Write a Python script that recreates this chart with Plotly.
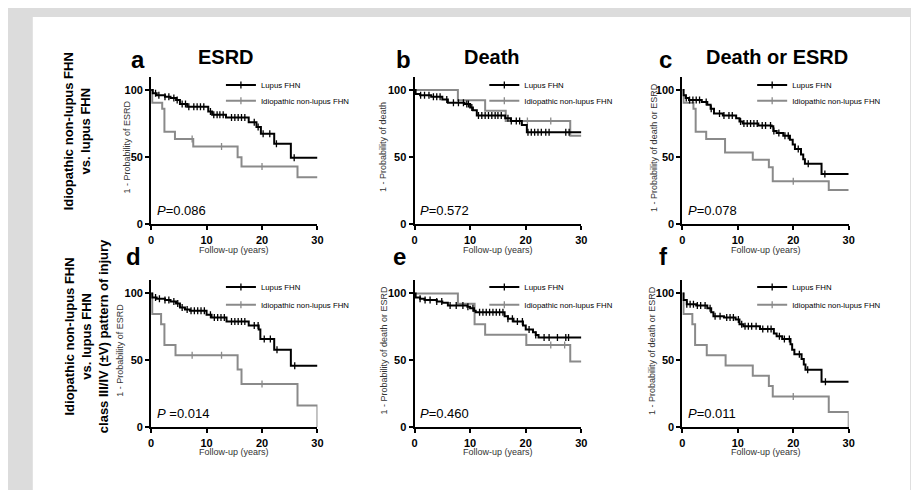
import plotly.graph_objects as go

FOLLOW_UP_END = 30

# ---------------- data ----------------
# (a) ESRD, all lupus FHN vs idiopathic
a_lupus_t = [0, 0.3, 1.0, 2.5, 3.5, 4.5, 5.2, 6.5, 10.3, 11.0, 13.5, 17.6, 19.0, 19.8, 22.2, 25.2]
a_lupus_s = [100, 97.5, 96, 95, 94, 92.5, 89.5, 87.5, 84, 81.5, 79.5, 76, 72.5, 67.5, 60, 49.5]
a_lupus_cens = [0.8, 1.4, 2.5, 3.2, 4.1, 4.7, 5.6, 6.2, 6.8, 7.7, 8.3, 8.9, 9.5, 10.7, 11.3, 11.9,
                12.4, 13.0, 14.5, 15.1, 15.7, 16.3, 16.9, 18.6, 19.3, 20.2, 21.4, 22.6, 25.8]
a_idio_t = [0, 0.2, 2.0, 2.4, 4.3, 7.6, 15.6, 16.3, 26.4]
a_idio_s = [100, 90.5, 86, 69, 63.5, 58, 50, 43, 35]
a_idio_cens = [7.4, 12.7, 20.0]

# (b) Death
b_lupus_t = [0, 0.2, 1.0, 3.0, 5.0, 6.0, 9.0, 10.0, 10.5, 11.2, 16.3, 17.3, 19.3, 20.2]
b_lupus_s = [100, 97, 96, 95, 93, 90.5, 89.5, 87, 85, 81, 79, 77, 74, 68.5]
b_lupus_cens = [1.1, 1.8, 2.6, 3.4, 4.0, 4.6, 5.8, 7.0, 7.9, 8.8, 9.4, 9.7, 10.3, 11.5, 12.1, 12.7,
                13.3, 13.9, 14.5, 15.0, 15.6, 16.8, 17.4, 18.3, 18.9, 20.4, 21.0, 21.6, 22.2,
                22.8, 23.6, 24.2, 27.2, 27.8]
b_idio_t = [0, 7.8, 12.7, 16.4, 28.0]
b_idio_s = [100, 92.3, 84.6, 76.9, 65.9]
b_idio_cens = [20.3, 24.5]

# (c) Death or ESRD
c_lupus_t = [0, 0.2, 0.6, 1.2, 3.5, 4.5, 5.1, 5.7, 7.3, 9.7, 10.3, 10.9, 13.7, 16.1, 16.4, 17.0, 18.2,
             19.4, 19.9, 20.3, 21.4, 21.8, 22.1, 25.1]
c_lupus_s = [100, 96, 94, 92.5, 91, 89, 86, 82.5, 81, 79, 76.5, 75, 73.5, 73, 69.5, 68, 66, 63, 59.5,
             56, 52, 48.5, 45, 37.5]
c_lupus_cens = [0.7, 1.3, 1.9, 2.5, 3.1, 4.3, 5.2, 6.7, 7.5, 8.4, 9.0, 10.5, 11.1, 11.7, 12.3, 12.9,
                13.5, 14.4, 15.0, 15.9, 16.5, 17.4, 18.5, 19.1, 20.9, 22.7, 25.7]
c_idio_t = [0, 0.2, 2.0, 2.4, 4.3, 7.7, 12.7, 15.6, 16.3, 26.4]
c_idio_s = [100, 90.5, 86, 69, 63.5, 53.5, 48, 42.5, 32, 25.5]
c_idio_cens = [20.0]

# (d) ESRD, class III/IV (+/-V) lupus FHN
d_lupus_t = [0, 0.2, 1.0, 2.5, 3.5, 4.5, 5.2, 6.1, 7.0, 10.0, 10.9, 13.6, 17.6, 19.4, 19.7, 22.2, 25.2]
d_lupus_s = [100, 97, 96, 95, 94, 92.4, 89.5, 88, 87, 84, 82, 79, 76, 73, 66, 58, 46]
d_lupus_cens = [0.8, 1.5, 2.5, 3.2, 4.1, 4.8, 5.6, 6.5, 7.2, 7.8, 8.4, 9.0, 9.6, 10.7, 11.4, 12.0,
                12.6, 13.2, 14.5, 15.1, 15.7, 16.3, 16.9, 18.6, 19.3, 20.4, 21.5, 22.7, 25.9]
d_idio_t = [0, 0.2, 1.8, 2.4, 4.4, 15.6, 16.3, 26.4, 30.0]
d_idio_s = [100, 84.6, 76.9, 61.5, 53.8, 43.1, 32.3, 16.2, 0]
d_idio_cens = [7.4, 12.7, 20.0]

# (e) Death or ESRD ... (middle)
e_lupus_t = [0, 0.2, 1.0, 1.8, 4.0, 5.0, 6.0, 9.5, 10.0, 10.7, 11.0, 16.2, 16.8, 17.8, 19.5, 20.0,
             21.3, 21.8, 22.3]
e_lupus_s = [100, 97, 96, 95, 94, 93, 91, 90, 89, 87, 86, 83, 81, 79, 76, 73, 71, 69, 67]
e_lupus_cens = [1.0, 1.9, 2.8, 4.0, 4.9, 6.4, 7.5, 8.7, 9.6, 10.5, 11.7, 12.3, 12.9, 13.5, 14.1, 14.7,
                15.3, 15.9, 16.8, 17.6, 18.5, 19.4, 20.6, 21.8, 23.3, 24.2, 25.7, 27.2, 27.7]
e_idio_t = [0, 7.8, 10.8, 12.7, 20.1, 28.0]
e_idio_s = [100, 92.3, 76.9, 69.2, 61.5, 49.2]
e_idio_cens = [24.5, 27.0]

# (f) Death or ESRD, class III/IV
f_lupus_t = [0, 0.2, 0.8, 2.5, 4.5, 5.2, 5.6, 7.5, 9.6, 10.3, 11.0, 14.0, 16.5, 17.0, 18.0, 19.5,
             19.8, 20.2, 21.5, 21.9, 22.2, 25.1]
f_lupus_s = [100, 95, 92, 91, 89, 86, 83, 82, 80.5, 77, 75.5, 73.5, 70, 68, 66, 62, 58, 54.5, 51,
             47, 43, 34]
f_lupus_cens = [0.8, 1.4, 2.0, 2.7, 3.3, 4.1, 5.0, 5.9, 6.8, 8.0, 8.6, 9.2, 10.1, 10.7, 11.3, 11.9,
                12.5, 13.3, 14.5, 15.4, 16.0, 17.5, 18.4, 19.3, 21.1, 22.6, 25.8]
f_idio_t = [0, 0.2, 1.8, 2.3, 4.4, 7.8, 12.7, 15.6, 16.3, 26.4, 30.0]
f_idio_s = [100, 84.6, 76.9, 61.5, 53.8, 46.2, 38.5, 30.8, 23.1, 11.5, 0]
f_idio_cens = [20.0]

panel_letters = ["a", "b", "c", "d", "e", "f"]
panel_titles = ["ESRD", "Death", "Death or ESRD", "", "", ""]
p_values = ["<i>P</i>=0.086", "<i>P</i>=0.572", "<i>P</i>=0.078",
            "<i>P</i> =0.014", "<i>P</i>=0.460", "<i>P</i>=0.011"]
y_titles = ["1 - Probability of ESRD", "1 - Probability of death", "1 - Probability of death or ESRD",
            "1 - Probability of ESRD", "1 - Probability of death or ESRD",
            "1 - Probability of death or ESRD"]
x_title = "Follow-up (years)"
series_names = ["Lupus FHN", "Idiopathic non-lupus FHN"]
row_labels = ["Idiopathic non-lupus FHN<br>vs. lupus FHN",
              "Idiopathic non-lupus FHN<br>vs. lupus FHN<br>class III/IV (±V) pattern of injury"]
x_ticks = [0, 10, 20, 30]
y_ticks = [0, 50, 100]

panels = [
    (a_lupus_t, a_lupus_s, a_lupus_cens, a_idio_t, a_idio_s, a_idio_cens),
    (b_lupus_t, b_lupus_s, b_lupus_cens, b_idio_t, b_idio_s, b_idio_cens),
    (c_lupus_t, c_lupus_s, c_lupus_cens, c_idio_t, c_idio_s, c_idio_cens),
    (d_lupus_t, d_lupus_s, d_lupus_cens, d_idio_t, d_idio_s, d_idio_cens),
    (e_lupus_t, e_lupus_s, e_lupus_cens, e_idio_t, e_idio_s, e_idio_cens),
    (f_lupus_t, f_lupus_s, f_lupus_cens, f_idio_t, f_idio_s, f_idio_cens),
]

# ---------------- layout geometry (pixels) ----------------
W, H = 919, 490
FONT = "Arial, Liberation Sans, Helvetica, sans-serif"
BLACK = "#000000"
GREY = "#8a8a8a"

col_px = [(141.5, 309.5), (407.5, 576.0), (678.0, 846.0)]
row_px = [(69.4, 219.0), (275.4, 424.5)]   # (top, bottom)
ytitle_dx = [-24, -32, -28, -31, -30.5, -30]
letter_pos = [(128, 52), (396, 52), (661, 52), (124, 252), (392, 252), (659, 252)]
title_pos = [(217, 50), (486, 50), (774, 50)]


def fx(px):
    return px / W


def fy(py):
    return 1 - py / H


def step_value(ts, ss, t):
    v = ss[0]
    for ti, si in zip(ts, ss):
        if ti <= t:
            v = si
    return v


fig = go.Figure()
layout_axes = {}
annotations = []
legends = {}

for i, (lt, ls, lc, it, is_, ic) in enumerate(panels):
    r, c = divmod(i, 3)
    n = i + 1
    xa = "x" if n == 1 else f"x{n}"
    ya = "y" if n == 1 else f"y{n}"
    x0, x1 = col_px[c]
    top, bot = row_px[r]

    lg1 = "legend" if i == 0 else f"legend{2 * i + 1}"
    lg2 = f"legend{2 * i + 2}"

    for ts, ss, cens, color, name, lg in [
        (it, is_, ic, GREY, series_names[1], lg2),
        (lt, ls, lc, BLACK, series_names[0], lg1),
    ]:
        xs = list(ts) + [FOLLOW_UP_END]
        ys = list(ss) + [ss[-1]]
        fig.add_trace(go.Scatter(x=xs, y=ys, mode="lines", line=dict(color=color, width=2, shape="hv"),
                                 xaxis=xa, yaxis=ya, showlegend=False, hoverinfo="skip"))
        fig.add_trace(go.Scatter(x=cens, y=[step_value(ts, ss, t) for t in cens], mode="markers",
                                 marker=dict(symbol="line-ns-open", size=5, color=color,
                                             line=dict(color=color, width=1.3)),
                                 xaxis=xa, yaxis=ya, showlegend=False, hoverinfo="skip"))
        fig.add_trace(go.Scatter(x=[None], y=[None], mode="lines+markers", name=name,
                                 line=dict(color=color, width=2),
                                 marker=dict(symbol="line-ns-open", size=5, color=color,
                                             line=dict(color=color, width=1.3)),
                                 xaxis=xa, yaxis=ya, showlegend=True, legend=lg))

    # legends
    text_x = x0 + 111.5
    ly = [top + 8.6, top + 24.6] if r == 0 else [top + 7, top + 25]
    for lg, yy in [(lg1, ly[0]), (lg2, ly[1])]:
        legends[lg] = dict(x=fx(text_x - 41), y=fy(yy), xanchor="left", yanchor="middle",
                           bgcolor="rgba(0,0,0,0)", borderwidth=0, itemwidth=30,
                           font=dict(family=FONT, size=7.8, color="#000000"),
                           itemclick=False, itemdoubleclick=False)

    axis_common = dict(showline=True, linecolor=BLACK, linewidth=2, ticks="outside", ticklen=4,
                       tickwidth=2, tickcolor=BLACK, showgrid=False, zeroline=False,
                       tickfont=dict(family=FONT, size=11, color=BLACK, weight="bold"),
                       fixedrange=True)
    layout_axes["xaxis" if n == 1 else f"xaxis{n}"] = dict(
        axis_common, domain=[fx(x0), fx(x1)], range=[0, 30], tickvals=x_ticks,
        anchor=ya)
    layout_axes["yaxis" if n == 1 else f"yaxis{n}"] = dict(
        axis_common, domain=[fy(bot), fy(top)], range=[0, 110], tickvals=y_ticks,
        anchor=xa)

    # texts
    lx, lyy = letter_pos[i]
    annotations.append(dict(text=panel_letters[i], x=fx(lx), y=fy(lyy), xref="paper", yref="paper",
                            showarrow=False, xanchor="center", yanchor="middle",
                            font=dict(family=FONT, size=24, color=BLACK, weight="bold")))
    if panel_titles[i]:
        tx, ty = title_pos[i]
        annotations.append(dict(text=panel_titles[i], x=fx(tx), y=fy(ty), xref="paper", yref="paper",
                                showarrow=False, xanchor="center", yanchor="middle",
                                font=dict(family=FONT, size=20, color=BLACK, weight="bold")))
    annotations.append(dict(text=p_values[i], x=fx(x0 + 4), y=fy(bot - 13.5), xref="paper",
                            yref="paper", showarrow=False, xanchor="left", yanchor="middle",
                            font=dict(family=FONT, size=13, color=BLACK)))
    annotations.append(dict(text=y_titles[i], x=fx(x0 + ytitle_dx[i]), y=fy(bot - 78),
                            xref="paper", yref="paper", showarrow=False, textangle=-90,
                            xanchor="center", yanchor="middle",
                            font=dict(family=FONT, size=9, color="#333333")))
    annotations.append(dict(text=x_title, x=fx((x0 + x1) / 2), y=fy(bot + 25.5), xref="paper",
                            yref="paper", showarrow=False, xanchor="center", yanchor="middle",
                            font=dict(family=FONT, size=9, color="#333333")))

# row labels
for (cx, cy), txt in zip([(67.5, 125), (77, 332)], row_labels):
    annotations.append(dict(text=txt, x=fx(cx), y=fy(cy), xref="paper", yref="paper",
                            showarrow=False, textangle=-90, xanchor="center", yanchor="middle",
                            align="center",
                            font=dict(family=FONT, size=13, color=BLACK, weight="bold")))

fig.update_layout(
    width=W, height=H, autosize=False,
    margin=dict(l=0, r=0, t=0, b=0),
    paper_bgcolor="#dcdcdc", plot_bgcolor="#ffffff",
    annotations=annotations,
    shapes=[dict(type="rect", xref="paper", yref="paper", x0=fx(22), x1=fx(908), y0=0, y1=fy(9),
                 fillcolor="#ffffff", line=dict(width=0), layer="below")],
    **layout_axes,
    **legends,
)

fig.write_html("out.html")
